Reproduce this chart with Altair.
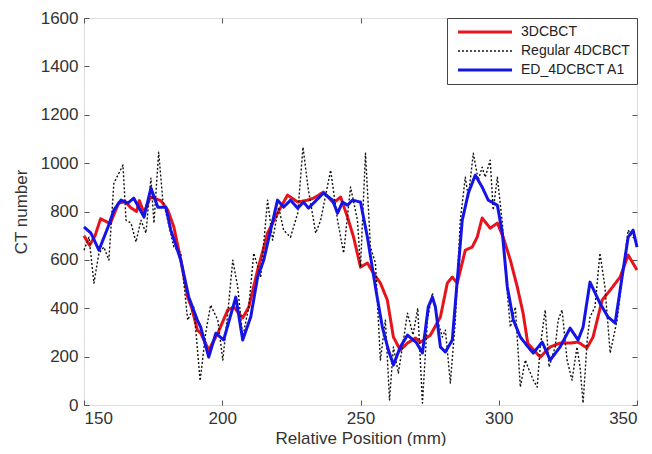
import altair as alt
import pandas as pd

series_names = ["3DCBCT", "Regular 4DCBCT", "ED_4DCBCT A1"]

red_x = [150, 152, 154, 156, 159.5, 162.5, 165, 167, 169, 170, 171.7, 174, 177.8, 180.3, 182.5, 185,
         187.5, 189, 191, 192.2, 195.1, 198.4, 202, 204.2, 207.4, 209.6, 212.8, 216.4, 220, 223.6,
         227.3, 230.9, 233, 236.6, 240.3, 242.8, 245.3, 247.5, 250, 252.5, 254.7, 257.2, 259.7,
         261.9, 264.4, 267, 269.9, 271.7, 275.3, 278.9, 281.4, 283.2, 285, 287.9, 290.4, 292.2,
         294, 296.9, 299.5, 301.6, 304.2, 306.7, 308.8, 310.5, 315, 318.6, 322.2, 325.8, 328.7,
         331.9, 334.1, 337.4, 340.3, 343.9, 346.8, 350]
red_y = [700, 660, 700, 770, 750, 835, 840, 815, 800, 845, 795, 860, 845, 806, 736, 600,
         446, 400, 310, 297, 227, 297, 393, 405, 360, 405, 558, 711, 793, 868,
         839, 847, 855, 880, 835, 860, 777, 694, 570, 587, 545, 504, 434,
         281, 227, 256, 277, 260, 289, 364, 504, 529, 504, 640, 653, 694,
         773, 731, 752, 694, 599, 488, 380, 255, 198, 240, 256, 256, 260,
         236, 281, 434, 475, 529, 620, 558]

black_x = [150, 151.8, 153.6, 155.4, 157.2, 159, 160.8, 164.1, 165.2, 167, 168.8, 170.6, 172.4,
           174.2, 175.3, 177, 178.5, 180.3, 182.5, 185, 187.5, 189.7, 192, 194, 195.8, 198.4,
           200.2, 202, 203.8, 205.6, 207.4, 209.6, 211.4, 213.9, 216.4, 218.2, 220.4, 222.2,
           224.7, 227.3, 229.2, 231, 233.8, 235.6, 239.2, 241.7, 243.9, 246.4, 248.9, 250,
           251.8, 253.6, 255.4, 257.2, 259, 260.5, 261.9, 263.7, 267, 269, 270.7, 272.4, 274.2,
           276, 277.8, 279.6, 280.7, 282.5, 284.3, 286.1, 287.9, 289, 290.8, 292.6, 294, 295.1,
           296.9, 298, 299.5, 301.3, 303.1, 304.2, 306, 307.8, 309.6, 310.8, 312.5, 313.9, 315,
           316.8, 318.2, 320.4, 321.5, 322.9, 324.7, 326.5, 328.3, 329.4, 330.5, 332, 333,
           334.8, 336.6, 338.4, 340.3, 342.8, 345, 346.8, 349.3]
black_y = [640, 694, 504, 628, 653, 599, 917, 992, 764, 752, 674, 764, 711,
           938, 752, 1045, 847, 764, 653, 628, 351, 405, 100, 297, 413, 351,
           186, 380, 599, 488, 281, 405, 628, 529, 847, 682, 818, 723,
           694, 793, 1066, 901, 711, 764, 971, 764, 628, 901, 764, 570,
           1041, 653, 587, 186, 351, 21, 240, 132, 380, 290, 400, 8, 351,
           463, 351, 281, 310, 91, 351, 764, 942, 860, 1041, 930, 983, 942,
           1012, 806, 942, 752, 463, 322, 405, 74, 186, 150, 103, 74, 240,
           393, 157, 240, 351, 393, 186, 103, 240, 157, 8, 269, 364,
           405, 628, 488, 215, 351, 558, 723, 682]

blue_x = [150, 152.5, 155.4, 158.7, 160.8, 163.4, 165.9, 168, 171.7, 174.2, 176.7, 179.6, 181.4,
          185, 187.9, 191, 192.2, 195.1, 197.7, 200.5, 204.9, 207.4, 210.3, 212.8, 215, 217.5,
          220, 222.2, 224.7, 227.3, 229.4, 231.2, 236.6, 239.9, 241.7, 243.5, 245.3, 247.1, 250,
          252.5, 255.4, 257.9, 260.1, 261.9, 264.4, 267, 270.2, 272.4, 274.5, 276, 277.1, 278.9,
          280.7, 283.2, 285, 286.8, 289, 291.5, 294, 296.2, 299.5, 301.3, 303.1, 305.3, 307.8,
          310.6, 312.5, 315.7, 318.6, 322.2, 325.8, 328.7, 330.5, 333, 336.6, 339.5, 342.1,
          344.6, 346.8, 348.6, 350]
blue_y = [736, 711, 640, 736, 806, 847, 835, 855, 777, 897, 818, 818, 723,
          599, 446, 351, 322, 198, 297, 269, 446, 269, 364, 529, 599, 723,
          847, 818, 847, 814, 839, 814, 876, 847, 793, 839, 826, 847, 839,
          694, 488, 322, 227, 165, 240, 289, 258, 215, 405, 446, 405, 240,
          219, 269, 516, 764, 876, 950, 901, 847, 826, 711, 488, 351, 281,
          240, 215, 260, 186, 240, 318, 269, 322, 508, 421, 364, 339,
          529, 694, 723, 653]

x_ticks = [150, 200, 250, 300, 350]
y_ticks = [0, 200, 400, 600, 800, 1000, 1200, 1400, 1600]

colors = ["#e8141c", "#111111", "#1414e6"]
dashes = [[1, 0], [2, 2], [1, 0]]
widths = [3, 1.4, 3]

W, H = 553, 387

red_df = pd.DataFrame({"x": red_x, "y": red_y, "series": series_names[0]})
black_df = pd.DataFrame({"x": black_x, "y": black_y, "series": series_names[1]})
blue_df = pd.DataFrame({"x": blue_x, "y": blue_y, "series": series_names[2]})

xscale = alt.Scale(domain=[150, 350], nice=False, zero=False)
yscale = alt.Scale(domain=[0, 1600], nice=False, zero=False)

main_x_axis = alt.Axis(values=x_ticks, format="d", ticks=False, domain=False, grid=False,
                       labelFontSize=17, labelPadding=5, labelColor="#333",
                       title="Relative Position (mm)", titleFontSize=17,
                       titleFontWeight="normal", titleColor="#333", titlePadding=4)
main_y_axis = alt.Axis(values=y_ticks, format="d", ticks=False, domain=False, grid=False,
                       labelFontSize=17, labelPadding=6, labelColor="#333",
                       title="CT number", titleFontSize=17, titleFontWeight="normal",
                       titleColor="#333", titlePadding=10)

color_enc = alt.Color("series:N", scale=alt.Scale(domain=series_names, range=colors),
                      legend=alt.Legend(title=None))
dash_enc = alt.StrokeDash("series:N", scale=alt.Scale(domain=series_names, range=dashes),
                          legend=alt.Legend(title=None))
width_enc = alt.StrokeWidth("series:N",
                            scale=alt.Scale(type="ordinal", domain=series_names, range=widths),
                            legend=alt.Legend(title=None))


def line_layer(df, with_axes):
    xa = main_x_axis if with_axes else None
    ya = main_y_axis if with_axes else None
    return alt.Chart(df).mark_line(strokeCap="butt", strokeJoin="round").encode(
        x=alt.X("x:Q", scale=xscale, axis=xa),
        y=alt.Y("y:Q", scale=yscale, axis=ya),
        color=color_enc,
        strokeDash=dash_enc,
        strokeWidth=width_enc,
    )


red_layer = line_layer(red_df, True)
black_layer = line_layer(black_df, False)
blue_layer = line_layer(blue_df, False)

tick_kw = dict(labels=False, domain=False, grid=False, ticks=True, tickSize=5,
               tickColor="#555", title=None)

ticks_a = alt.Chart(red_df).mark_point(opacity=0).encode(
    x=alt.X("x:Q", scale=xscale, axis=alt.Axis(values=x_ticks, orient="top", offset=-H, **tick_kw)),
    y=alt.Y("y:Q", scale=yscale, axis=alt.Axis(values=y_ticks, orient="right", offset=-W, **tick_kw)),
)
ticks_b = alt.Chart(red_df).mark_point(opacity=0).encode(
    x=alt.X("x:Q", scale=xscale, axis=alt.Axis(values=x_ticks, orient="bottom", offset=-H, **tick_kw)),
    y=alt.Y("y:Q", scale=yscale, axis=alt.Axis(values=y_ticks, orient="left", offset=-W, **tick_kw)),
)

chart = alt.layer(red_layer, black_layer, blue_layer, ticks_a, ticks_b).resolve_axis(
    x="independent", y="independent"
).properties(
    width=W, height=H,
    autosize=alt.AutoSizeParams(type="none"),
    padding={"left": 76, "top": 10, "right": 7, "bottom": 41},
).configure_view(
    stroke="#555", strokeWidth=1.2
).configure(
    font="Liberation Sans"
).configure_legend(
    orient="none", legendX=363, legendY=0,
    strokeColor="#444", fillColor="white", padding=7,
    labelFontSize=14, labelColor="#222", labelOffset=29,
    symbolType="M-5,0H5", symbolSize=117, symbolOffset=24,
    rowPadding=5, cornerRadius=0,
)

chart.save("out.html", embed_options={"renderer": "svg", "actions": False})
